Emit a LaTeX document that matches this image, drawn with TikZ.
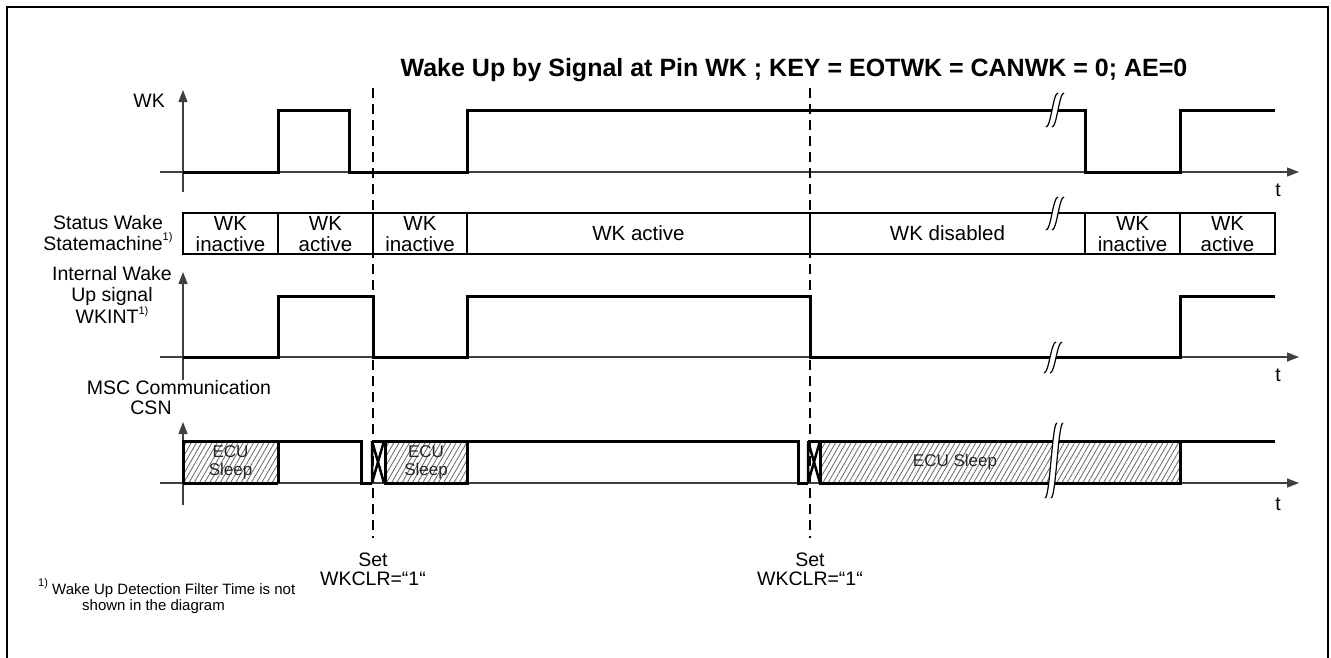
\documentclass[tikz,border=0pt]{standalone}
\usepackage{fontspec}
\setmainfont{Liberation Sans}
\usetikzlibrary{arrows.meta,patterns.meta}
\newcommand\fnmark{\raisebox{0.5em}{\fontsize{11}{11}\selectfont 1)}}
\newcommand\brkmark[3]{%
  \fill[white] (#1-6,#3) .. controls (#1-1,#3) and (#1+1,#2) .. (#1+6,#2) -- (#1+12,#2) .. controls (#1+7,#2) and (#1+5,#3) .. (#1,#3) -- cycle;
  \draw[line width=1.2pt] (#1-6,#3) .. controls (#1-1,#3) and (#1+1,#2) .. (#1+6,#2);
  \draw[line width=1.2pt] (#1,#3) .. controls (#1+5,#3) and (#1+7,#2) .. (#1+12,#2);}
\begin{document}
\begin{tikzpicture}[x=1pt,y=-1pt,
  sig/.style={line width=3pt,line join=miter},
  axis/.style={line width=1.3pt,black!75,-{Triangle[length=12pt,width=9pt]}},
  plainax/.style={line width=1.3pt,black!75},
  smbox/.style={line width=1.5pt},
  marker/.style={line width=2.2pt,dash pattern=on 10pt off 6pt},
  lab/.style={inner sep=0pt,font=\fontsize{19.5}{21}\selectfont},
  boxtext/.style={inner sep=0pt,align=center,font=\fontsize{20.5}{21}\selectfont},
  ecu/.style={inner sep=0pt,align=center,text=black!85,font=\fontsize{17}{18}\selectfont},
  hatch/.style={pattern={Lines[angle=60,distance=4.5pt,line width=0.8pt]},pattern color=black!60},
  fn/.style={inner sep=0pt,font=\fontsize{15}{16}\selectfont}
]
\useasboundingbox (0,0) rectangle (1331,657);
\draw[line width=2pt] (7,660) -- (7,7) -- (1328,7) -- (1328,660);

% title
\node[inner sep=0pt,font=\bfseries\fontsize{25}{27}\selectfont] (title) at (794,70) {Wake Up by Signal at Pin WK ; KEY = EOTWK = CANWK = 0; AE=0};

% hatched areas
\fill[hatch] (183,441) rectangle (278,483);
\fill[hatch] (385,441) rectangle (467,483);
\fill[hatch] (820,441) rectangle (1180,483);

% axes
\draw[plainax] (183,192) -- (183,100);
\draw[axis] (183,110) -- (183,90);
\draw[axis] (160,172) -- (1299,172);
\draw[plainax] (183,380) -- (183,285);
\draw[axis] (183,296) -- (183,272);
\draw[axis] (160,357) -- (1299,357);
\draw[plainax] (183,505) -- (183,435);
\draw[axis] (183,441) -- (183,422);
\draw[axis] (160,483) -- (1299,483);

\node[lab] (t1) at (1278,190) {t};
\node[lab] (t2) at (1278,375) {t};
\node[lab] (t3) at (1278,504) {t};

% markers
\draw[marker] (373,88) -- (373,538);
\draw[marker] (810,88) -- (810,538);

% WK signal
\draw[sig] (183,172) -| (278,110) -| (349,172) -| (467,110) -| (1085,172) -| (1180,110) -- (1275,110);

% statemachine
\draw[smbox] (183,213) rectangle (1275,254);
\foreach \xx in {278,373,467,810,1085,1180} \draw[smbox] (\xx,213) -- (\xx,254);
\node[boxtext] (s1) at (230.5,234) {WK\\inactive};
\node[boxtext] (s2) at (325.5,234) {WK\\active};
\node[boxtext] (s3) at (420,234) {WK\\inactive};
\node[boxtext] (s4) at (638.5,233) {WK active};
\node[boxtext] (s5) at (947.5,233) {WK disabled};
\node[boxtext] (s6) at (1132.5,234) {WK\\inactive};
\node[boxtext] (s7) at (1227.5,234) {WK\\active};

% WKINT signal
\draw[sig] (183,357) -| (278,296) -| (373,357) -| (467,296) -| (810,357) -| (1180,296) -- (1275,296);

% CSN signal
\draw[sig] (183,483) -- (278,483);
\draw[sig] (183,483) -- (183,441) -- (361,441) -- (361,483) -- (372,483);
\draw[sig] (278,441) -- (278,483);
\draw[line width=2.5pt] (372,441) -- (384,483) (372,483) -- (384,441) (372,441) -- (372,483);
\draw[sig] (372,441) -- (798,441) -- (798,483) -- (808,483);
\draw[sig] (385,441) -- (385,483) -- (467,483) -- (467,441);
\draw[line width=2.5pt] (808,441) -- (820,483) (808,483) -- (820,441) (808,441) -- (808,483);
\draw[sig] (808,441) -- (1275,441);
\draw[sig] (820,441) -- (820,483) -- (1180,483) -- (1180,441);
\node[ecu] (e1) at (230.5,462) {ECU\\Sleep};
\node[ecu] (e2) at (426,462) {ECU\\Sleep};
\node[ecu] (e3) at (955,462) {ECU Sleep};

% breaks
\brkmark{1052}{93}{127}
\brkmark{1052}{197}{230}
\brkmark{1050}{342}{373}
\brkmark{1051}{423}{498}

% left labels
\node[lab,anchor=east] (lwk) at (165,101) {WK};
\node[lab,align=center] (lsm) at (108,233) {Status Wake\\Statemachine\fnmark};
\node[lab,align=center] (lint) at (112,295) {Internal Wake\\Up signal\\WKINT\fnmark};
\node[lab] (lmsc) at (179,388) {MSC Communication};
\node[lab] (lcsn) at (151,408) {CSN};

% set labels
\node[lab,align=center,font=\fontsize{19.5}{19}\selectfont] (set1) at (373,569) {Set\\WKCLR=“1“};
\node[lab,align=center,font=\fontsize{19.5}{19}\selectfont] (set2) at (810,569) {Set\\WKCLR=“1“};

% footnote
\node[fn,anchor=west] (fn1) at (38,588) {\fnmark\ Wake Up Detection Filter Time is not};
\node[fn,anchor=west] (fn2) at (82,607) {shown in the diagram};
\end{tikzpicture}
\end{document}
